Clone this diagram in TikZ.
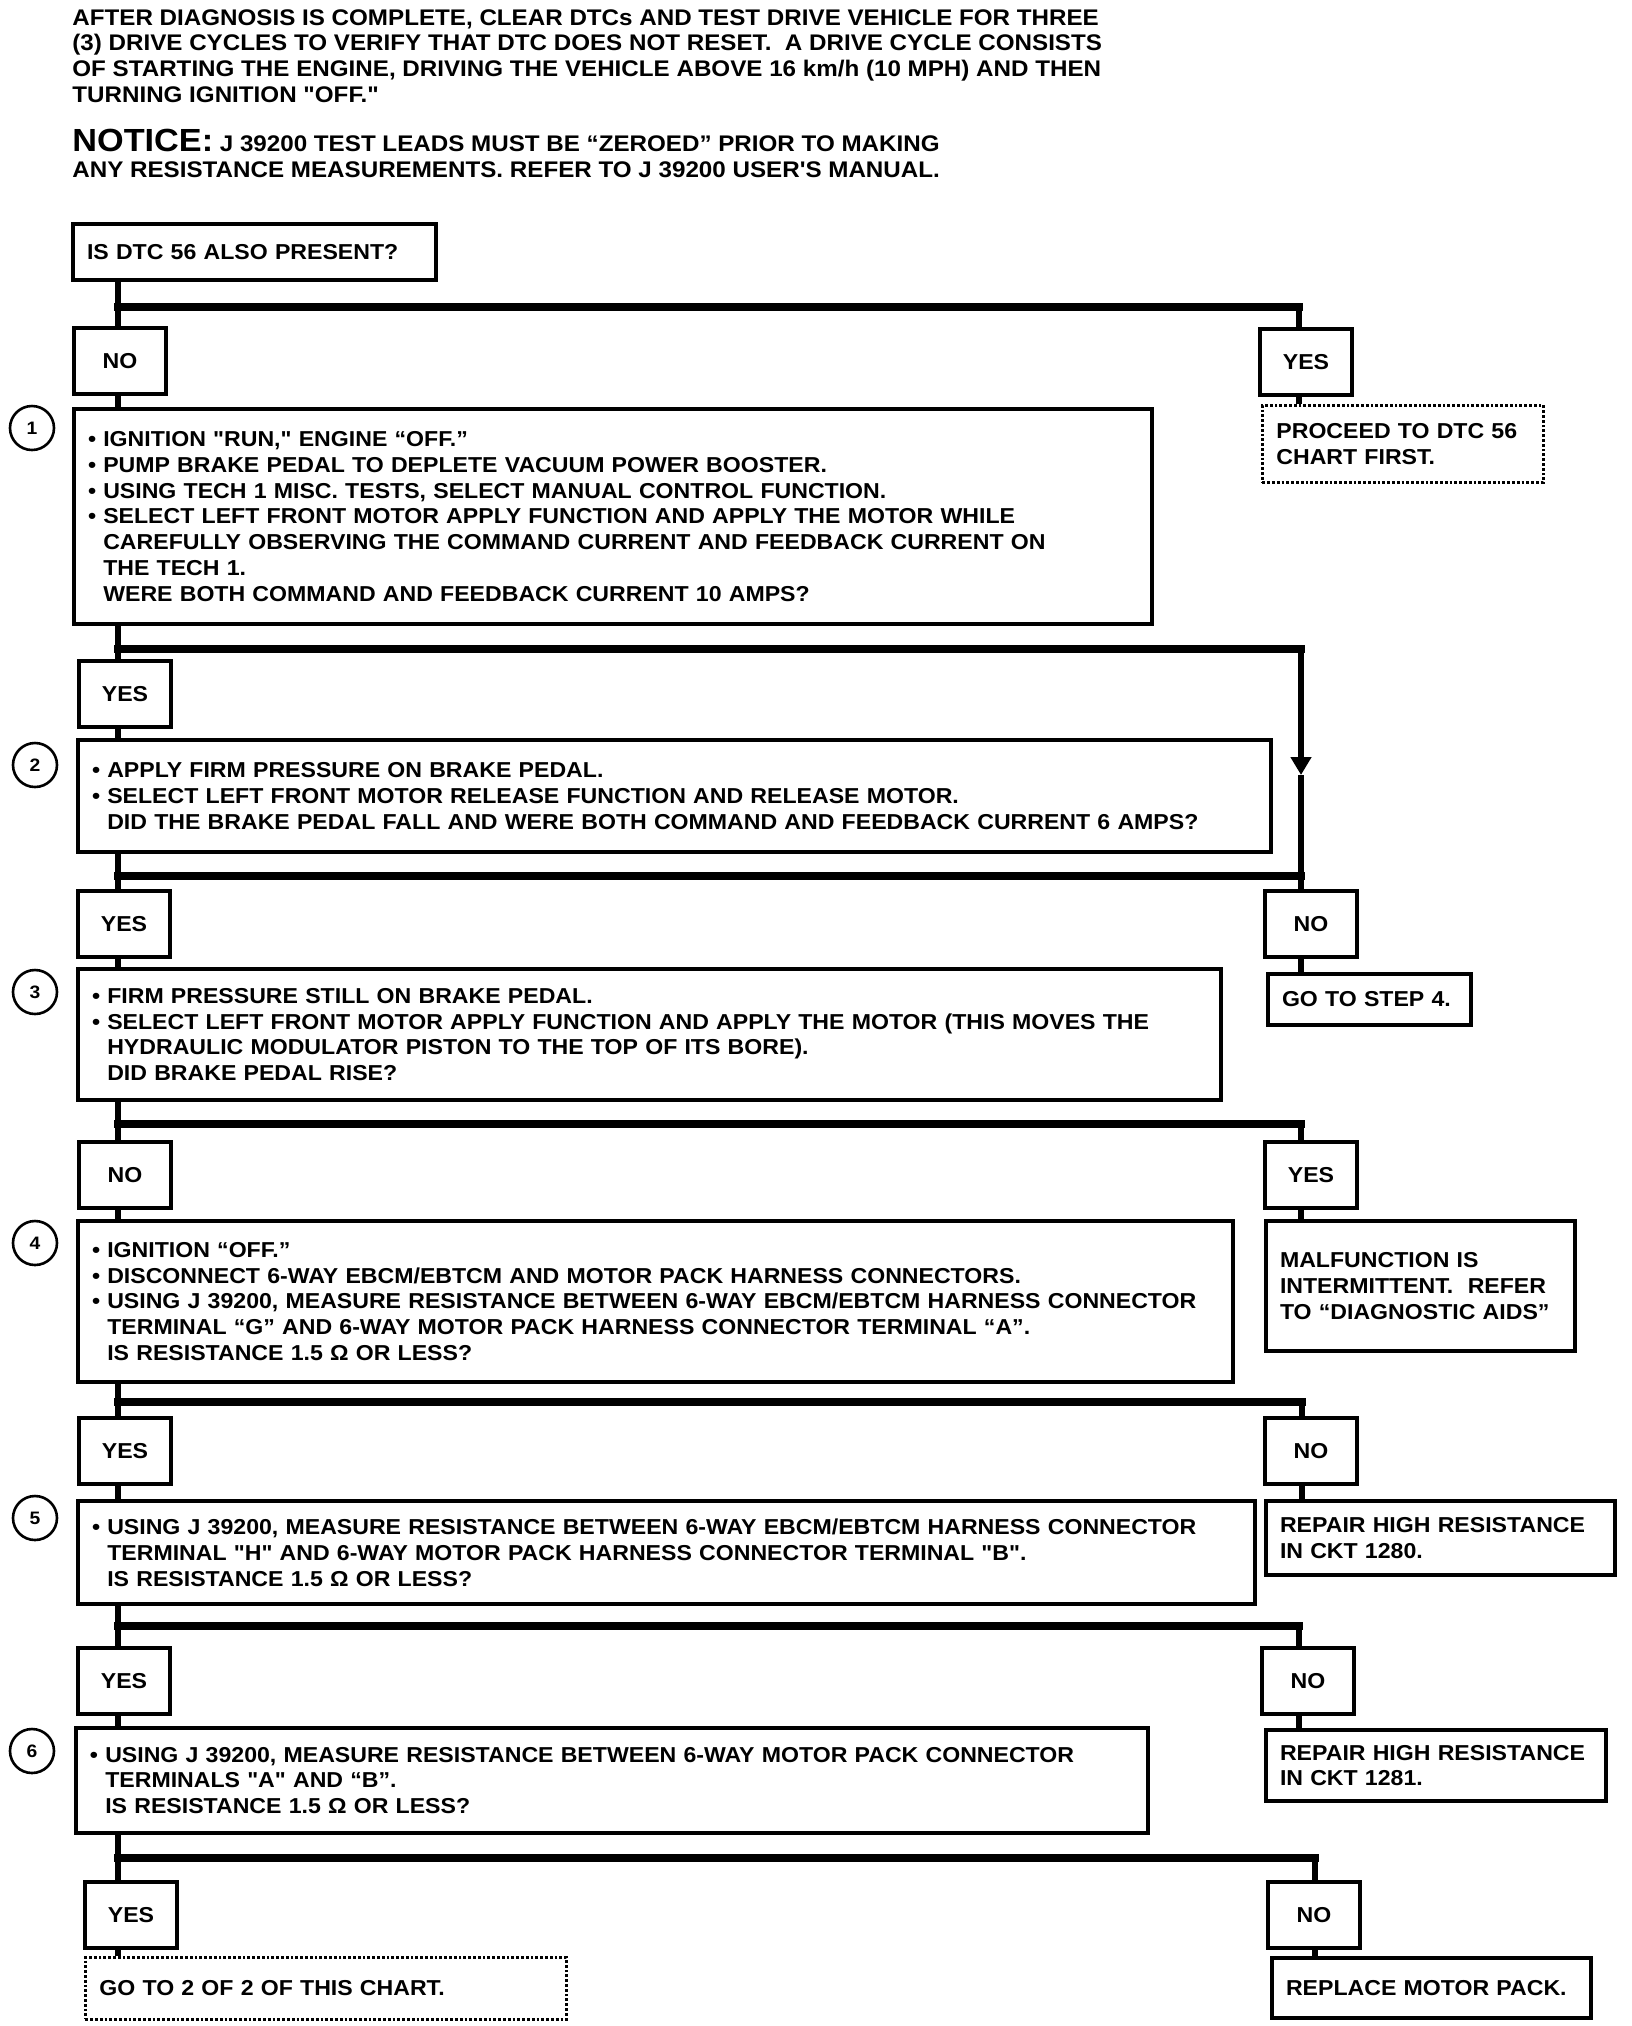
\documentclass[tikz,border=0pt]{standalone}
\usepackage{fontspec}
\newfontfamily\fuente[FakeStretch=1.07]{Liberation Sans}
\usepackage{tikz}
\usetikzlibrary{arrows.meta}
\newcommand{\FT}{\fuente\fontsize{10.8}{12.9}\selectfont\bfseries}
\newcommand{\FH}{\fuente\fontsize{11.3}{12.9}\selectfont\bfseries}
\newcommand{\FN}{\fuente\fontsize{9}{10}\selectfont\bfseries}
\newcommand{\FB}{\fuente\fontsize{16}{18}\selectfont\bfseries}
\newcommand{\bul}{\textbullet\ }
\newcommand{\ind}{\phantom{\textbullet\ }}

\begin{document}
\begin{tikzpicture}[x=0.5pt,y=-0.5pt]
\tikzstyle{texto}=[draw=none,fill=none,inner sep=0pt,anchor=north west,align=left,font=\FH]
\tikzstyle{caja}=[draw,line width=2pt,anchor=north west,align=left,inner xsep=7pt,inner ysep=0pt,font=\FT]
\tikzstyle{punteada}=[caja,line width=1.4pt,densely dotted]
\tikzstyle{resp}=[draw,line width=2pt,anchor=north,minimum width=46pt,minimum height=33pt,font=\FT]
\tikzstyle{num}=[draw,circle,line width=1.3pt,minimum size=22pt,inner sep=0pt,font=\FN]
\tikzstyle{line}=[line width=3pt]
\tikzstyle{barra}=[line width=4pt,line cap=rect]

\useasboundingbox (0,0) rectangle (1632,2026);

\node[texto] (head) at (72,9) {AFTER DIAGNOSIS IS COMPLETE, CLEAR DTCs AND TEST DRIVE VEHICLE FOR THREE\\
(3) DRIVE CYCLES TO VERIFY THAT DTC DOES NOT RESET.\ \ A DRIVE CYCLE CONSISTS\\
OF STARTING THE ENGINE, DRIVING THE VEHICLE ABOVE 16 km/h (10 MPH) AND THEN\\
TURNING IGNITION "OFF."};
\node[texto] (notice) at (72,129) {{\FB NOTICE:} J 39200 TEST LEADS MUST BE “ZEROED” PRIOR TO MAKING\\
ANY RESISTANCE MEASUREMENTS. REFER TO J 39200 USER'S MANUAL.};

\node[caja,text width=167.5pt,minimum height=28pt] (q0) at (71,222) {IS DTC 56 ALSO PRESENT?};

\node[caja,text width=525pt,minimum height=107.5pt] (s1) at (72,407) {\bul IGNITION "RUN," ENGINE “OFF.”\\
\bul PUMP BRAKE PEDAL TO DEPLETE VACUUM POWER BOOSTER.\\
\bul USING TECH 1 MISC. TESTS, SELECT MANUAL CONTROL FUNCTION.\\
\bul SELECT LEFT FRONT MOTOR APPLY FUNCTION AND APPLY THE MOTOR WHILE\\
\ind CAREFULLY OBSERVING THE COMMAND CURRENT AND FEEDBACK CURRENT ON\\
\ind THE TECH 1.\\
\ind WERE BOTH COMMAND AND FEEDBACK CURRENT 10 AMPS?};
\node[caja,text width=582.5pt,minimum height=56pt] (s2) at (76,738) {\bul APPLY FIRM PRESSURE ON BRAKE PEDAL.\\
\bul SELECT LEFT FRONT MOTOR RELEASE FUNCTION AND RELEASE MOTOR.\\
\ind DID THE BRAKE PEDAL FALL AND WERE BOTH COMMAND AND FEEDBACK CURRENT 6 AMPS?};
\node[caja,text width=557.5pt,minimum height=65.5pt] (s3) at (76,967) {\bul FIRM PRESSURE STILL ON BRAKE PEDAL.\\
\bul SELECT LEFT FRONT MOTOR APPLY FUNCTION AND APPLY THE MOTOR (THIS MOVES THE\\
\ind HYDRAULIC MODULATOR PISTON TO THE TOP OF ITS BORE).\\
\ind DID BRAKE PEDAL RISE?};
\node[caja,text width=563.5pt,minimum height=80.5pt] (s4) at (76,1219) {\bul IGNITION “OFF.”\\
\bul DISCONNECT 6-WAY EBCM/EBTCM AND MOTOR PACK HARNESS CONNECTORS.\\
\bul USING J 39200, MEASURE RESISTANCE BETWEEN 6-WAY EBCM/EBTCM HARNESS CONNECTOR\\
\ind TERMINAL “G” AND 6-WAY MOTOR PACK HARNESS CONNECTOR TERMINAL “A”.\\
\ind IS RESISTANCE 1.5 Ω OR LESS?};
\node[caja,text width=574.5pt,minimum height=51.5pt] (s5) at (76,1499) {\bul USING J 39200, MEASURE RESISTANCE BETWEEN 6-WAY EBCM/EBTCM HARNESS CONNECTOR\\
\ind TERMINAL "H" AND 6-WAY MOTOR PACK HARNESS CONNECTOR TERMINAL "B".\\
\ind IS RESISTANCE 1.5 Ω OR LESS?};
\node[caja,text width=522pt,minimum height=52.5pt] (s6) at (74,1726) {\bul USING J 39200, MEASURE RESISTANCE BETWEEN 6-WAY MOTOR PACK CONNECTOR\\
\ind TERMINALS "A" AND “B”.\\
\ind IS RESISTANCE 1.5 Ω OR LESS?};

\node[num] (c1) at (32,428) {1};
\node[num] (c2) at (35,765) {2};
\node[num] (c3) at (35,992) {3};
\node[num] (c4) at (35,1243) {4};
\node[num] (c5) at (35,1518) {5};
\node[num] (c6) at (32,1751) {6};

\node[punteada,text width=126.5pt,minimum height=38.5pt] (pro) at (1261,404) {PROCEED TO DTC 56\\CHART FIRST.};
\node[caja,text width=87.5pt,minimum height=25.5pt] (go4) at (1266,972) {GO TO STEP 4.};
\node[caja,text width=140.5pt,minimum height=65pt] (mal) at (1264,1219) {MALFUNCTION IS\\INTERMITTENT.\ \ REFER\\TO “DIAGNOSTIC AIDS”};
\node[caja,text width=160.5pt,minimum height=37pt] (rep0) at (1264,1499) {REPAIR HIGH RESISTANCE\\IN CKT 1280.};
\node[caja,text width=156pt,minimum height=35.5pt] (rep1) at (1264,1728) {REPAIR HIGH RESISTANCE\\IN CKT 1281.};
\node[punteada,text width=226.5pt,minimum height=31pt] (go2) at (84,1956) {GO TO 2 OF 2 OF THIS CHART.};
\node[caja,text width=145.5pt,minimum height=30pt] (repl) at (1270,1956) {REPLACE MOTOR PACK.};

\node[resp] (a1) at (120,326) {NO};
\node[resp] (a1r) at (1306,327) {YES};
\node[resp] (a2) at (125,659) {YES};
\node[resp] (a3) at (124,889) {YES};
\node[resp] (a3r) at (1311,889) {NO};
\node[resp] (a4) at (125,1140) {NO};
\node[resp] (a4r) at (1311,1140) {YES};
\node[resp] (a5) at (125,1416) {YES};
\node[resp] (a5r) at (1311,1416) {NO};
\node[resp] (a6) at (124,1646) {YES};
\node[resp] (a6r) at (1308,1646) {NO};
\node[resp] (a7) at (131,1880) {YES};
\node[resp] (a7r) at (1314,1880) {NO};

\coordinate (b1L) at (118,307);  \coordinate (b1R) at (1299,307);
\coordinate (b2L) at (118,649);  \coordinate (b2R) at (1301,649);
\coordinate (b3L) at (118,876);  \coordinate (b3R) at (1301,876);
\coordinate (b4L) at (118,1124); \coordinate (b4R) at (1301,1124);
\coordinate (b5L) at (118,1402); \coordinate (b5R) at (1302,1402);
\coordinate (b6L) at (118,1626); \coordinate (b6R) at (1299,1626);
\coordinate (b7L) at (118,1858); \coordinate (b7R) at (1315,1858);
\coordinate (tip) at (1301,775);

\draw[line] (q0.south -| b1L) -- (a1.north -| b1L);
\draw[barra] (b1L) -- (b1R);
\draw[line] (b1R) -- (b1R |- a1r.north);
\draw[line] (a1r.south -| b1R) -- (b1R |- pro.north);
\draw[line] (a1.south -| b1L) -- (b1L |- s1.north);

\draw[line] (s1.south -| b2L) -- (a2.north -| b2L);
\draw[barra] (b2L) -- (b2R);
\draw[line,-{Triangle[length=9pt,width=10pt]}] (b2R) -- (tip);
\draw[line] (tip) -- (b3R);
\draw[line] (a2.south -| b2L) -- (b2L |- s2.north);

\draw[line] (s2.south -| b3L) -- (a3.north -| b3L);
\draw[barra] (b3L) -- (b3R);
\draw[line] (b3R) -- (b3R |- a3r.north);
\draw[line] (a3r.south -| b3R) -- (b3R |- go4.north);
\draw[line] (a3.south -| b3L) -- (b3L |- s3.north);

\draw[line] (s3.south -| b4L) -- (a4.north -| b4L);
\draw[barra] (b4L) -- (b4R);
\draw[line] (b4R) -- (b4R |- a4r.north);
\draw[line] (a4r.south -| b4R) -- (b4R |- mal.north);
\draw[line] (a4.south -| b4L) -- (b4L |- s4.north);

\draw[line] (s4.south -| b5L) -- (a5.north -| b5L);
\draw[barra] (b5L) -- (b5R);
\draw[line] (b5R) -- (b5R |- a5r.north);
\draw[line] (a5r.south -| b5R) -- (b5R |- rep0.north);
\draw[line] (a5.south -| b5L) -- (b5L |- s5.north);

\draw[line] (s5.south -| b6L) -- (a6.north -| b6L);
\draw[barra] (b6L) -- (b6R);
\draw[line] (b6R) -- (b6R |- a6r.north);
\draw[line] (a6r.south -| b6R) -- (b6R |- rep1.north);
\draw[line] (a6.south -| b6L) -- (b6L |- s6.north);

\draw[line] (s6.south -| b7L) -- (a7.north -| b7L);
\draw[barra] (b7L) -- (b7R);
\draw[line] (b7R) -- (b7R |- a7r.north);
\draw[line] (a7r.south -| b7R) -- (b7R |- repl.north);
\draw[line] (a7.south -| b7L) -- (b7L |- go2.north);
\end{tikzpicture}
\end{document}
